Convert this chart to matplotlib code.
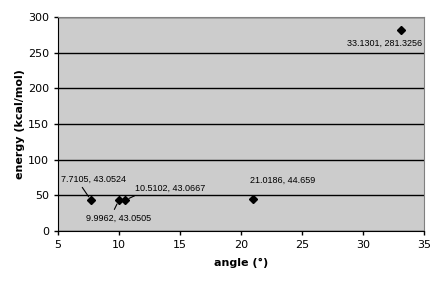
import matplotlib.pyplot as plt

# data points
angles = [7.7105, 9.9962, 10.5102, 21.0186, 33.1301]
energies = [43.0524, 43.0505, 43.0667, 44.659, 281.3256]

# where each label sits (data coords) and where its leader line leaves the text
label_xy = [(7.95, 72.9), (10.0, 18.2), (14.18, 60.3), (23.44, 71.5), (31.8, 263.6)]
leader = [(0.28, 0.0), (0.4, 1.0), (0.1, 0.0), None, None]

fig = plt.figure(figsize=(4.42, 2.83), dpi=100)
ax = fig.add_axes([0.131, 0.184, 0.828, 0.756])
ax.set_facecolor('#cccccc')

ax.plot(angles, energies, linestyle='none', marker='D', color='black', markersize=4.5)

for x, y, (tx, ty), rel in zip(angles, energies, label_xy, leader):
    txt = '%s, %s' % (x, y)
    if rel is None:
        ax.text(tx, ty, txt, ha='center', va='center', fontsize=6.5, family='Liberation Sans')
    else:
        ax.annotate(txt, xy=(x, y), xytext=(tx, ty), ha='center', va='center',
                    fontsize=6.5, family='Liberation Sans',
                    arrowprops=dict(arrowstyle='-', color='black', lw=0.8,
                                    relpos=rel, shrinkA=1, shrinkB=3))

ax.set_xlim(5, 35)
ax.set_ylim(0, 300)
ax.set_xticks(range(5, 36, 5))
ax.set_yticks(range(0, 301, 50))
ax.yaxis.grid(True, color='black', linewidth=1)
ax.set_axisbelow(True)

for s in ['top', 'right']:
    ax.spines[s].set_color('#808080')
for s in ['left', 'bottom']:
    ax.spines[s].set_color('black')
ax.tick_params(labelsize=8, length=3, width=1, direction='out')

ax.set_xlabel('angle (°)', fontsize=8, fontweight='bold', labelpad=6)
ax.set_ylabel('energy (kcal/mol)', fontsize=8, fontweight='bold', labelpad=2)

fig.savefig('out.png', dpi=100)
